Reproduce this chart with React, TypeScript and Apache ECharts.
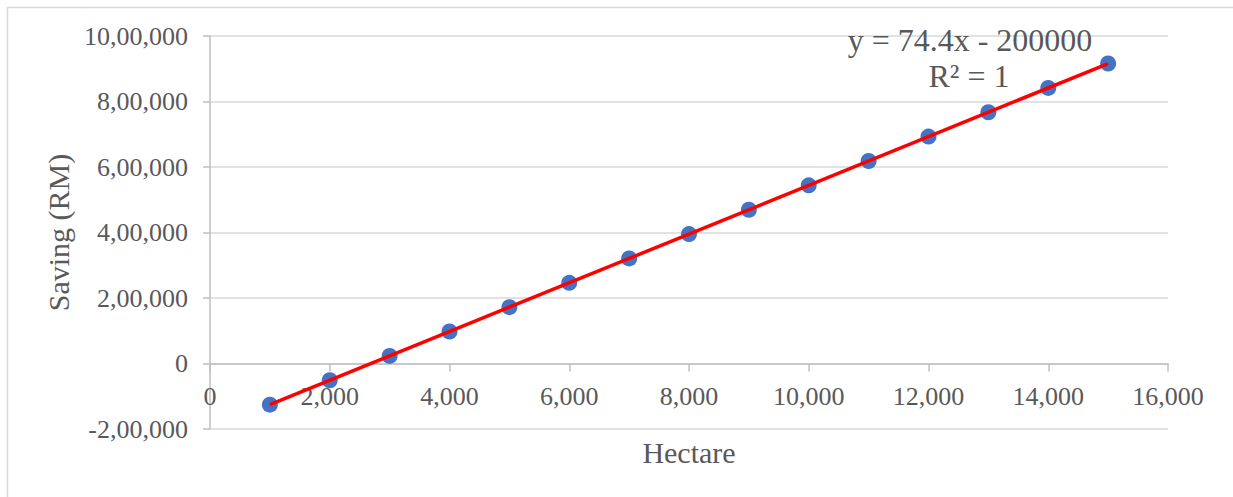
import React, { useEffect, useRef } from "react";
import * as echarts from "echarts";

const hectare = [1000, 2000, 3000, 4000, 5000, 6000, 7000, 8000, 9000, 10000, 11000, 12000, 13000, 14000, 15000];
const saving = [-125600, -51200, 23200, 97600, 172000, 246400, 320800, 395200, 469600, 544000, 618400, 692800, 767200, 841600, 916000];
const equationLines = ["y = 74.4x - 200000", "R² = 1"];
const xTitle = "Hectare";
const yTitle = "Saving (RM)";

const FONT = "'Liberation Serif', 'Times New Roman', serif";
const TXT = "#595959";

function formatIN(v: number): string {
  const neg = v < 0;
  const s = Math.round(Math.abs(v)).toString();
  let out: string;
  if (s.length <= 3) out = s;
  else {
    const last3 = s.slice(-3);
    let rest = s.slice(0, -3);
    const parts: string[] = [];
    while (rest.length > 2) {
      parts.unshift(rest.slice(-2));
      rest = rest.slice(0, -2);
    }
    if (rest.length) parts.unshift(rest);
    out = parts.join(",") + "," + last3;
  }
  return (neg ? "-" : "") + out;
}

function regression(xs: number[], ys: number[]) {
  const n = xs.length;
  const mx = xs.reduce((a, b) => a + b, 0) / n;
  const my = ys.reduce((a, b) => a + b, 0) / n;
  let sxy = 0, sxx = 0;
  for (let i = 0; i < n; i++) {
    sxy += (xs[i] - mx) * (ys[i] - my);
    sxx += (xs[i] - mx) * (xs[i] - mx);
  }
  const slope = sxy / sxx;
  return { slope, intercept: my - slope * mx };
}

export default function App() {
  const ref = useRef<HTMLDivElement>(null);
  useEffect(() => {
    if (!ref.current) return;
    const chart = echarts.init(ref.current, undefined, { renderer: "svg" });
    const { slope, intercept } = regression(hectare, saving);
    const x0 = hectare[0];
    const x1 = hectare[hectare.length - 1];
    chart.setOption({
      animation: false,
      backgroundColor: "#ffffff",
      grid: { left: 210, right: 65, top: 36, bottom: 68, containLabel: false, outerBoundsMode: "none" },
      xAxis: {
        type: "value",
        min: 0,
        max: 16000,
        interval: 2000,
        name: xTitle,
        nameLocation: "middle",
        nameGap: 8,
        nameTextStyle: { fontFamily: FONT, fontSize: 30, color: TXT },
        axisLine: { show: true, onZero: true, lineStyle: { color: "#bfbfbf", width: 1.5 } },
        axisTick: { show: true, inside: false, length: 8, lineStyle: { color: "#bfbfbf", width: 1.5 } },
        axisLabel: {
          inside: true,
          fontFamily: FONT,
          fontSize: 26,
          color: TXT,
          margin: 20,
          formatter: (v: number) => formatIN(v),
        },
        splitLine: { show: false },
      },
      yAxis: {
        type: "value",
        min: -200000,
        max: 1000000,
        interval: 200000,
        name: yTitle,
        nameLocation: "middle",
        nameGap: 133,
        nameRotate: 90,
        nameTextStyle: { fontFamily: FONT, fontSize: 30, color: TXT },
        axisLine: { show: true, onZero: false, lineStyle: { color: "#bfbfbf", width: 1.5 } },
        axisTick: { show: true, length: 7, lineStyle: { color: "#bfbfbf", width: 1.5 } },
        axisLabel: {
          fontFamily: FONT,
          fontSize: 26,
          color: TXT,
          margin: 22,
          formatter: (v: number) => formatIN(v),
        },
        splitLine: { show: true, lineStyle: { color: "#d9d9d9", width: 1.5 } },
      },
      graphic: [
        {
          type: "rect",
          shape: { x: 7.5, y: 7.5, width: 1400, height: 700 },
          style: { fill: "none", stroke: "#d9d9d9", lineWidth: 1.5 },
          silent: true,
          z: -10,
        },
        {
          type: "text",
          x: 970,
          y: 40,
          style: {
            text: equationLines[0],
            fontFamily: FONT,
            fontSize: 32,
            fill: TXT,
            align: "center",
            verticalAlign: "middle",
          },
          z: 100,
        },
        {
          type: "text",
          x: 969,
          y: 76,
          style: {
            text: equationLines[1],
            fontFamily: FONT,
            fontSize: 32,
            fill: TXT,
            align: "center",
            verticalAlign: "middle",
          },
          z: 100,
        },
      ],
      series: [
        {
          type: "scatter",
          data: hectare.map((x, i) => [x, saving[i]]),
          symbol: "circle",
          symbolSize: 16,
          itemStyle: { color: "#4472C4", opacity: 1 },
          z: 2,
        },
        {
          type: "line",
          data: [
            [x0, intercept + slope * x0],
            [x1, intercept + slope * x1],
          ],
          symbol: "none",
          lineStyle: { color: "#ff0000", width: 3.5 },
          z: 3,
        },
      ],
    });
    return () => chart.dispose();
  }, []);
  return (
    <div
      ref={ref}
      style={{ position: "fixed", left: 0, top: 0, width: 1233, height: 497 }}
    />
  );
}
